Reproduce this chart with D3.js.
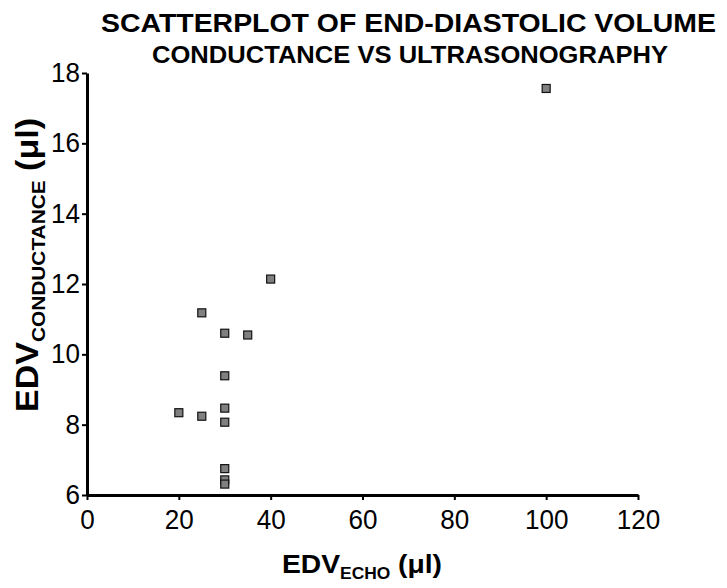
<!DOCTYPE html>
<html>
<head>
<meta charset="utf-8">
<script src="https://cdn.jsdelivr.net/npm/d3@7"></script>
<style>
  html, body { margin: 0; padding: 0; background: #fff; }
  svg { display: block; font-family: "Liberation Sans", Arial, sans-serif; }
</style>
</head>
<body>
<svg id="chart" width="727" height="588"></svg>
<script>
// Data
const edvEcho = [100, 40, 25, 30, 35, 30, 30, 20, 25, 30, 30, 30, 30];
const edvConductance = [17.56, 12.14, 11.18, 10.6, 10.55, 9.39, 8.47, 8.34, 8.24, 8.07, 6.75, 6.43, 6.31];
const xTicks = [0, 20, 40, 60, 80, 100, 120];
const yTicks = [6, 8, 10, 12, 14, 16, 18];
const titleText = "SCATTERPLOT OF END-DIASTOLIC VOLUME";
const subtitleText = "CONDUCTANCE VS ULTRASONOGRAPHY";

const svg = d3.select("#chart");

const x = d3.scaleLinear().domain([0, 120]).range([87, 638]);
const y = d3.scaleLinear().domain([6, 18]).range([495, 73]);

// Titles
svg.append("text")
  .attr("x", 408.5).attr("y", 32)
  .attr("text-anchor", "middle")
  .attr("font-size", 26).attr("font-weight", "bold")
  .attr("textLength", 615).attr("lengthAdjust", "spacingAndGlyphs")
  .text(titleText);
svg.append("text")
  .attr("x", 410).attr("y", 63)
  .attr("text-anchor", "middle")
  .attr("font-size", 23).attr("font-weight", "bold")
  .attr("textLength", 516).attr("lengthAdjust", "spacingAndGlyphs")
  .text(subtitleText);

// Axes
const xAxis = svg.append("g")
  .attr("transform", "translate(0,495)")
  .call(d3.axisBottom(x).tickValues(xTicks).tickSize(5).tickPadding(10).tickSizeOuter(0));
const yAxis = svg.append("g")
  .attr("transform", "translate(87,0)")
  .call(d3.axisLeft(y).tickValues(yTicks).tickSize(5).tickPadding(2).tickSizeOuter(0));

[xAxis, yAxis].forEach(g => {
  g.select(".domain").attr("stroke", "#000").attr("stroke-width", 3);
  g.selectAll(".tick line").attr("stroke", "#000").attr("stroke-width", 2);
  g.selectAll(".tick text")
    .attr("font-family", "Liberation Sans, Arial, sans-serif")
    .attr("font-size", 27).attr("fill", "#000")
    .attr("textLength", d => String(d).length * 14.5)
    .attr("lengthAdjust", "spacingAndGlyphs");
});

// Points
svg.append("g").selectAll("rect")
  .data(edvEcho.map((v, i) => [v, edvConductance[i]]))
  .join("rect")
  .attr("x", d => x(d[0]) - 4)
  .attr("y", d => y(d[1]) - 4)
  .attr("width", 8).attr("height", 8)
  .attr("fill", "#808080")
  .attr("stroke", "#111")
  .attr("stroke-width", 1.2);

// X axis label
const xl = svg.append("text")
  .attr("x", 362).attr("y", 573)
  .attr("text-anchor", "middle")
  .attr("font-weight", "bold")
  .attr("textLength", 160).attr("lengthAdjust", "spacingAndGlyphs");
xl.append("tspan").attr("font-size", 26).text("EDV");
xl.append("tspan").attr("font-size", 16).attr("dy", 6).text("ECHO");
xl.append("tspan").attr("font-size", 26).attr("dy", -6).text(" (μl)");

// Y axis label
const yl = svg.append("text")
  .attr("transform", "translate(38,265) rotate(-90)")
  .attr("text-anchor", "middle")
  .attr("font-weight", "bold")
  .attr("textLength", 294).attr("lengthAdjust", "spacingAndGlyphs");
yl.append("tspan").attr("font-size", 31).text("EDV");
yl.append("tspan").attr("font-size", 19).attr("dy", 7).text("CONDUCTANCE");
yl.append("tspan").attr("font-size", 31).attr("dy", -7).text(" (μl)");
</script>
</body>
</html>
